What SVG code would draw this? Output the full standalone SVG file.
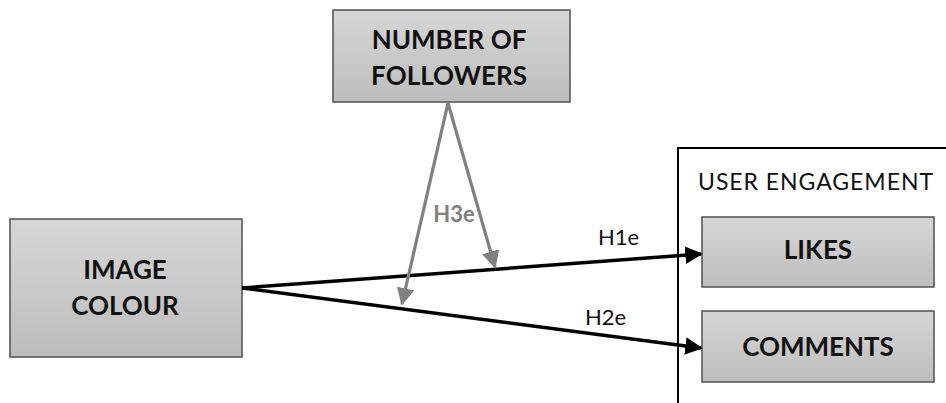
<svg xmlns="http://www.w3.org/2000/svg" width="946" height="403" viewBox="0 0 946 403">
<defs>
<linearGradient id="g" x1="0" y1="0" x2="0" y2="1">
<stop offset="0" stop-color="#d6d6d6"/>
<stop offset="1" stop-color="#bdbdbd"/>
</linearGradient>
<marker id="ab" viewBox="0 0 10 10" refX="9" refY="5" markerWidth="5" markerHeight="5" orient="auto" markerUnits="strokeWidth">
<path d="M0,0 L10,5 L0,10 z" fill="#000"/>
</marker>
<marker id="ag" viewBox="0 0 10 10" refX="9" refY="5" markerWidth="5.5" markerHeight="5.5" orient="auto" markerUnits="strokeWidth">
<path d="M0,0 L10,5 L0,10 z" fill="#808080"/>
</marker>
</defs>
<style>
.box{fill:url(#g);stroke:#505050;stroke-width:1.5}
.t{font-family:Lato,"Open Sans","Liberation Sans",sans-serif;font-weight:bold;font-size:26px;fill:#111;text-anchor:middle}
.l{font-family:Lato,"Open Sans","Liberation Sans",sans-serif;font-size:22px;fill:#111}
.u{font-family:Lato,"Open Sans","Liberation Sans",sans-serif;font-size:23px;fill:#111}
.k{stroke:#000;stroke-width:3.5;fill:none;marker-end:url(#ab)}
.gr{stroke:#808080;stroke-width:3.2;fill:none;marker-end:url(#ag)}
</style>
<g id="user-engagement">
<rect x="678" y="148" width="280" height="270" fill="none" stroke="#000" stroke-width="2"/>
<text class="u" x="698" y="190" textLength="235" lengthAdjust="spacing">USER ENGAGEMENT</text>
</g>
<g id="followers">
<rect class="box" x="333" y="10" width="237" height="92"/>
<text class="t" x="449" y="49">NUMBER OF</text>
<text class="t" x="449" y="85">FOLLOWERS</text>
</g>
<g id="image-colour">
<rect class="box" x="10" y="219" width="232" height="138"/>
<text class="t" x="125" y="279">IMAGE</text>
<text class="t" x="125" y="315">COLOUR</text>
</g>
<g id="likes">
<rect class="box" x="702" y="217" width="232" height="70"/>
<text class="t" x="818" y="259">LIKES</text>
</g>
<g id="comments">
<rect class="box" x="702" y="311" width="232" height="71"/>
<text class="t" x="818" y="356">COMMENTS</text>
</g>
<g id="connectors">
<line class="k" x1="242" y1="288" x2="701" y2="254"/>
<line class="k" x1="242" y1="288" x2="701" y2="348"/>
<line class="gr" x1="448" y1="103" x2="402" y2="304"/>
<line class="gr" x1="448" y1="103" x2="495" y2="267"/>
<text class="l" x="598" y="245">H1e</text>
<text class="l" x="585" y="325">H2e</text>
<text x="454" y="222" font-family="Lato,'Open Sans','Liberation Sans',sans-serif" font-weight="bold" font-size="22" fill="#808080" text-anchor="middle">H3e</text>
</g>
</svg>
